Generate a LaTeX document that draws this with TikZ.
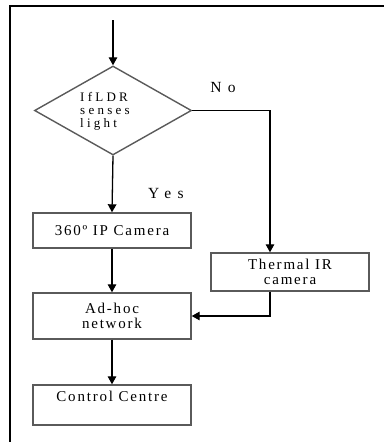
\documentclass[tikz,border=0pt]{standalone}
\usepackage{fontspec}
\setmainfont{Liberation Serif}
\newfontfamily\boxfont[LetterSpace=12]{Liberation Serif}
\newfontfamily\diafont[LetterSpace=25]{Liberation Serif}
\newfontfamily\lblfont[LetterSpace=42]{Liberation Serif}
\usetikzlibrary{shapes.geometric,arrows.meta}
\definecolor{boxgray}{HTML}{5A5A5A}
\begin{document}
\begin{tikzpicture}[x=1pt,y=-1pt,
  stepbox/.style={draw=boxgray, line width=1.4pt, minimum width=158pt, inner sep=0pt,
    align=center, font=\boxfont\fontsize{15}{15}\selectfont},
  decide/.style={draw=boxgray, line width=1.4pt, shape=diamond, minimum width=157pt,
    minimum height=89pt, inner sep=0pt},
  arr/.style={draw=black, line width=1.3pt, -{Triangle[length=8pt,width=8.5pt]}},
  lbl/.style={font=\lblfont\fontsize{15.5}{16}\selectfont, inner sep=0pt}]
\useasboundingbox (0,0) rectangle (384,442);
% frame
\draw[line width=2pt] (10,442) -- (10,6) -- (384,6);
% nodes
\coordinate (start) at (113,20);
\node[decide] (dia) at (113,110.5) {};
\node[anchor=west, align=left, inner sep=0pt, font=\diafont\fontsize{13}{13}\selectfont] (dtext) at (80,111) {IfLDR\\senses\\light};
\node[stepbox, minimum height=35pt] (cam) at (112,230.5) {360º IP Camera};
\node[stepbox, minimum height=38pt] (therm) at (290,272) {Thermal IR\\camera};
\node[stepbox, minimum height=46pt] (adhoc) at (112,316) {Ad-hoc\\network};
\node[stepbox, minimum height=40pt] (ctrl) at (112,405) {Control Centre\\[2pt]\mbox{}};
\coordinate (nocorner) at (270,110.5);
% labels
\node[lbl] (no) at (223,87) {No};
\node[lbl] (yes) at (166,193) {Yes};
% connectors
\draw[arr] (start) -- (dia.north);
\draw[arr] (dia.east) -- (nocorner) -- (nocorner |- therm.north);
\draw[arr] (dia.south) -- (cam.north);
\draw[arr] (cam.south) -- (adhoc.north);
\draw[arr] (nocorner |- therm.south) |- (adhoc.east);
\draw[arr] (adhoc.south) -- (ctrl.north);
\end{tikzpicture}
\end{document}
